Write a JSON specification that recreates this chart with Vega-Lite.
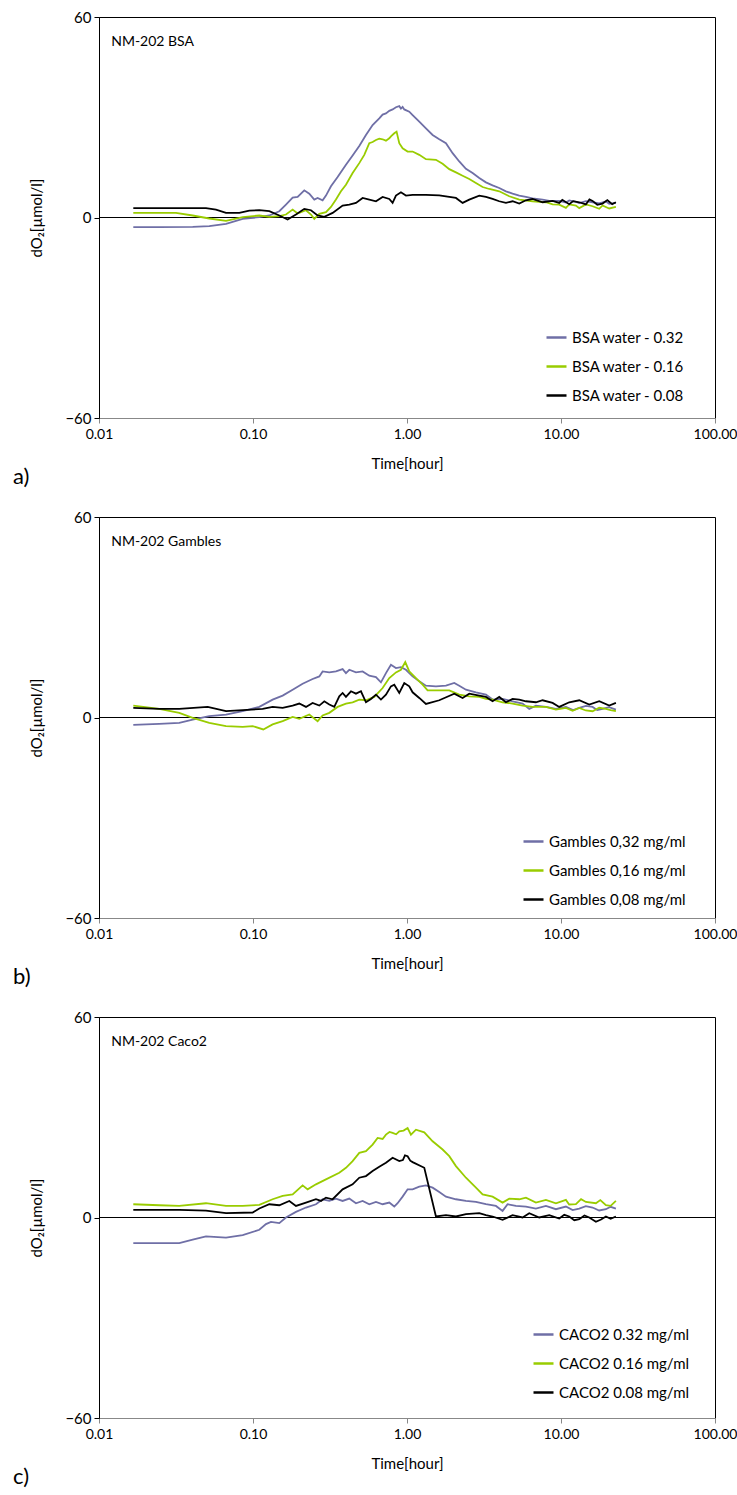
{
  "$schema": "https://vega.github.io/schema/vega-lite/v6.json",
  "padding": {"left": 12, "top": 9, "right": 2, "bottom": 5},
  "spacing": 99,
  "bounds": "flush",
  "config": {
    "font": "Lato",
    "view": {"stroke": "#000", "strokeWidth": 1},
    "axis": {"grid": false, "labelFont": "Lato", "titleFont": "Lato", "labelFontSize": 15, "titleFontSize": 15, "titleFontWeight": "normal", "labelColor": "#000", "titleColor": "#000"},
    "legend": {"labelFont": "Lato", "labelFontSize": 15, "labelColor": "#000"},
    "title": {"orient": "bottom", "anchor": "start", "frame": "group", "fontSize": 22, "fontWeight": "normal", "font": "Lato", "color": "#000", "dx": -86, "offset": -4}
  },
  "resolve": {"scale": {"color": "independent"}, "legend": {"color": "independent"}},
  "datasets": {
    "a": [
      {"s":"BSA water - 0.32","t":0.0167,"v":-2.88},{"s":"BSA water - 0.32","t":0.0246,"v":-2.88},{"s":"BSA water - 0.32","t":0.0406,"v":-2.78},{"s":"BSA water - 0.32","t":0.052,"v":-2.58},{"s":"BSA water - 0.32","t":0.0668,"v":-1.88},{"s":"BSA water - 0.32","t":0.0857,"v":-0.4},{"s":"BSA water - 0.32","t":0.1099,"v":0.1},{"s":"BSA water - 0.32","t":0.1276,"v":0.6},{"s":"BSA water - 0.32","t":0.1482,"v":1.88},{"s":"BSA water - 0.32","t":0.1637,"v":3.87},{"s":"BSA water - 0.32","t":0.1809,"v":5.95},{"s":"BSA water - 0.32","t":0.1949,"v":6.15},{"s":"BSA water - 0.32","t":0.2153,"v":8.13},{"s":"BSA water - 0.32","t":0.232,"v":7.14},{"s":"BSA water - 0.32","t":0.25,"v":5.36},{"s":"BSA water - 0.32","t":0.2628,"v":5.85},{"s":"BSA water - 0.32","t":0.2832,"v":5.16},{"s":"BSA water - 0.32","t":0.2977,"v":6.55},{"s":"BSA water - 0.32","t":0.3208,"v":9.33},{"s":"BSA water - 0.32","t":0.3544,"v":12.1},{"s":"BSA water - 0.32","t":0.4014,"v":15.77},{"s":"BSA water - 0.32","t":0.4435,"v":18.55},{"s":"BSA water - 0.32","t":0.4899,"v":21.43},{"s":"BSA water - 0.32","t":0.5413,"v":24.7},{"s":"BSA water - 0.32","t":0.598,"v":27.68},{"s":"BSA water - 0.32","t":0.6607,"v":29.66},{"s":"BSA water - 0.32","t":0.6945,"v":30.8},{"s":"BSA water - 0.32","t":0.73,"v":31.15},{"s":"BSA water - 0.32","t":0.7673,"v":31.9},{"s":"BSA water - 0.32","t":0.8064,"v":32.34},{"s":"BSA water - 0.32","t":0.8476,"v":33.0},{"s":"BSA water - 0.32","t":0.8909,"v":33.33},{"s":"BSA water - 0.32","t":0.9134,"v":32.6},{"s":"BSA water - 0.32","t":0.9365,"v":33.1},{"s":"BSA water - 0.32","t":0.9601,"v":32.34},{"s":"BSA water - 0.32","t":1.0346,"v":31.65},{"s":"BSA water - 0.32","t":1.0875,"v":30.65},{"s":"BSA water - 0.32","t":1.2015,"v":28.67},{"s":"BSA water - 0.32","t":1.3273,"v":26.69},{"s":"BSA water - 0.32","t":1.4665,"v":24.7},{"s":"BSA water - 0.32","t":1.6202,"v":23.41},{"s":"BSA water - 0.32","t":1.79,"v":22.22},{"s":"BSA water - 0.32","t":1.9777,"v":19.25},{"s":"BSA water - 0.32","t":2.1846,"v":16.77},{"s":"BSA water - 0.32","t":2.4136,"v":14.58},{"s":"BSA water - 0.32","t":2.6667,"v":13.29},{"s":"BSA water - 0.32","t":2.9462,"v":11.81},{"s":"BSA water - 0.32","t":3.2551,"v":10.52},{"s":"BSA water - 0.32","t":3.5956,"v":9.62},{"s":"BSA water - 0.32","t":3.9726,"v":8.83},{"s":"BSA water - 0.32","t":4.389,"v":7.84},{"s":"BSA water - 0.32","t":4.8491,"v":7.14},{"s":"BSA water - 0.32","t":5.3574,"v":6.55},{"s":"BSA water - 0.32","t":5.9181,"v":6.15},{"s":"BSA water - 0.32","t":6.5386,"v":5.75},{"s":"BSA water - 0.32","t":7.5932,"v":5.36},{"s":"BSA water - 0.32","t":8.39,"v":5.0},{"s":"BSA water - 0.32","t":9.7408,"v":4.96},{"s":"BSA water - 0.32","t":10.76,"v":4.5},{"s":"BSA water - 0.32","t":11.31,"v":5.1},{"s":"BSA water - 0.32","t":12.498,"v":4.66},{"s":"BSA water - 0.32","t":13.14,"v":4.3},{"s":"BSA water - 0.32","t":14.51,"v":4.9},{"s":"BSA water - 0.32","t":16.033,"v":4.56},{"s":"BSA water - 0.32","t":17.71,"v":4.2},{"s":"BSA water - 0.32","t":19.57,"v":4.8},{"s":"BSA water - 0.32","t":20.57,"v":4.1},{"s":"BSA water - 0.32","t":22.727,"v":4.37},
      {"s":"BSA water - 0.16","t":0.0167,"v":1.39},{"s":"BSA water - 0.16","t":0.0316,"v":1.39},{"s":"BSA water - 0.16","t":0.0406,"v":0.6},{"s":"BSA water - 0.16","t":0.052,"v":-0.3},{"s":"BSA water - 0.16","t":0.0668,"v":-0.99},{"s":"BSA water - 0.16","t":0.0857,"v":0.1},{"s":"BSA water - 0.16","t":0.1099,"v":0.6},{"s":"BSA water - 0.16","t":0.1276,"v":0.2},{"s":"BSA water - 0.16","t":0.1482,"v":0.4},{"s":"BSA water - 0.16","t":0.1637,"v":0.89},{"s":"BSA water - 0.16","t":0.1809,"v":2.38},{"s":"BSA water - 0.16","t":0.1949,"v":1.19},{"s":"BSA water - 0.16","t":0.2208,"v":2.18},{"s":"BSA water - 0.16","t":0.2379,"v":0.89},{"s":"BSA water - 0.16","t":0.25,"v":-0.4},{"s":"BSA water - 0.16","t":0.2695,"v":1.09},{"s":"BSA water - 0.16","t":0.2977,"v":1.59},{"s":"BSA water - 0.16","t":0.3208,"v":3.17},{"s":"BSA water - 0.16","t":0.3457,"v":5.36},{"s":"BSA water - 0.16","t":0.3725,"v":7.84},{"s":"BSA water - 0.16","t":0.4014,"v":9.82},{"s":"BSA water - 0.16","t":0.4435,"v":13.29},{"s":"BSA water - 0.16","t":0.4899,"v":16.27},{"s":"BSA water - 0.16","t":0.528,"v":18.75},{"s":"BSA water - 0.16","t":0.569,"v":22.22},{"s":"BSA water - 0.16","t":0.598,"v":22.6},{"s":"BSA water - 0.16","t":0.6286,"v":23.21},{"s":"BSA water - 0.16","t":0.6607,"v":23.6},{"s":"BSA water - 0.16","t":0.6945,"v":23.41},{"s":"BSA water - 0.16","t":0.73,"v":23.0},{"s":"BSA water - 0.16","t":0.7673,"v":23.71},{"s":"BSA water - 0.16","t":0.7866,"v":24.3},{"s":"BSA water - 0.16","t":0.8267,"v":25.2},{"s":"BSA water - 0.16","t":0.8557,"v":25.69},{"s":"BSA water - 0.16","t":0.8909,"v":22.22},{"s":"BSA water - 0.16","t":0.9365,"v":20.73},{"s":"BSA water - 0.16","t":1.0092,"v":19.74},{"s":"BSA water - 0.16","t":1.0875,"v":19.74},{"s":"BSA water - 0.16","t":1.2015,"v":18.75},{"s":"BSA water - 0.16","t":1.3273,"v":17.46},{"s":"BSA water - 0.16","t":1.5414,"v":17.26},{"s":"BSA water - 0.16","t":1.703,"v":16.07},{"s":"BSA water - 0.16","t":1.8815,"v":14.48},{"s":"BSA water - 0.16","t":2.0787,"v":13.49},{"s":"BSA water - 0.16","t":2.2963,"v":12.5},{"s":"BSA water - 0.16","t":2.537,"v":11.51},{"s":"BSA water - 0.16","t":2.8029,"v":10.32},{"s":"BSA water - 0.16","t":3.0968,"v":9.13},{"s":"BSA water - 0.16","t":3.4214,"v":8.53},{"s":"BSA water - 0.16","t":3.9726,"v":7.84},{"s":"BSA water - 0.16","t":4.6133,"v":6.35},{"s":"BSA water - 0.16","t":5.3574,"v":5.36},{"s":"BSA water - 0.16","t":6.5386,"v":4.86},{"s":"BSA water - 0.16","t":7.9813,"v":4.56},{"s":"BSA water - 0.16","t":8.82,"v":3.9},{"s":"BSA water - 0.16","t":9.7408,"v":3.87},{"s":"BSA water - 0.16","t":10.76,"v":2.9},{"s":"BSA water - 0.16","t":11.31,"v":3.9},{"s":"BSA water - 0.16","t":12.498,"v":3.57},{"s":"BSA water - 0.16","t":13.14,"v":2.8},{"s":"BSA water - 0.16","t":14.51,"v":3.9},{"s":"BSA water - 0.16","t":16.033,"v":3.37},{"s":"BSA water - 0.16","t":17.71,"v":2.6},{"s":"BSA water - 0.16","t":18.62,"v":3.6},{"s":"BSA water - 0.16","t":20.57,"v":2.7},{"s":"BSA water - 0.16","t":22.727,"v":3.17},
      {"s":"BSA water - 0.08","t":0.0167,"v":2.78},{"s":"BSA water - 0.08","t":0.0495,"v":2.78},{"s":"BSA water - 0.08","t":0.0575,"v":2.38},{"s":"BSA water - 0.08","t":0.0668,"v":1.39},{"s":"BSA water - 0.08","t":0.0815,"v":1.39},{"s":"BSA water - 0.08","t":0.0946,"v":2.08},{"s":"BSA water - 0.08","t":0.1099,"v":2.18},{"s":"BSA water - 0.08","t":0.1276,"v":1.88},{"s":"BSA water - 0.08","t":0.1482,"v":0.6},{"s":"BSA water - 0.08","t":0.1678,"v":-0.6},{"s":"BSA water - 0.08","t":0.1901,"v":0.89},{"s":"BSA water - 0.08","t":0.2153,"v":2.58},{"s":"BSA water - 0.08","t":0.2379,"v":2.18},{"s":"BSA water - 0.08","t":0.2628,"v":0.6},{"s":"BSA water - 0.08","t":0.2904,"v":0.2},{"s":"BSA water - 0.08","t":0.3289,"v":1.39},{"s":"BSA water - 0.08","t":0.3819,"v":3.57},{"s":"BSA water - 0.08","t":0.4219,"v":3.87},{"s":"BSA water - 0.08","t":0.4662,"v":4.37},{"s":"BSA water - 0.08","t":0.515,"v":5.85},{"s":"BSA water - 0.08","t":0.569,"v":5.36},{"s":"BSA water - 0.08","t":0.6286,"v":4.86},{"s":"BSA water - 0.08","t":0.6945,"v":6.15},{"s":"BSA water - 0.08","t":0.7673,"v":5.56},{"s":"BSA water - 0.08","t":0.8064,"v":4.37},{"s":"BSA water - 0.08","t":0.8476,"v":6.55},{"s":"BSA water - 0.08","t":0.9134,"v":7.54},{"s":"BSA water - 0.08","t":0.9843,"v":6.55},{"s":"BSA water - 0.08","t":1.0875,"v":6.75},{"s":"BSA water - 0.08","t":1.3273,"v":6.75},{"s":"BSA water - 0.08","t":1.6202,"v":6.65},{"s":"BSA water - 0.08","t":1.8815,"v":6.15},{"s":"BSA water - 0.08","t":2.0787,"v":5.85},{"s":"BSA water - 0.08","t":2.2963,"v":4.37},{"s":"BSA water - 0.08","t":2.537,"v":5.36},{"s":"BSA water - 0.08","t":2.9462,"v":6.55},{"s":"BSA water - 0.08","t":3.2551,"v":6.15},{"s":"BSA water - 0.08","t":3.5956,"v":5.56},{"s":"BSA water - 0.08","t":3.9726,"v":4.86},{"s":"BSA water - 0.08","t":4.389,"v":4.37},{"s":"BSA water - 0.08","t":4.8491,"v":4.86},{"s":"BSA water - 0.08","t":5.3574,"v":4.17},{"s":"BSA water - 0.08","t":5.9181,"v":5.16},{"s":"BSA water - 0.08","t":6.5386,"v":5.56},{"s":"BSA water - 0.08","t":7.5932,"v":4.56},{"s":"BSA water - 0.08","t":8.818,"v":4.96},{"s":"BSA water - 0.08","t":9.7408,"v":4.37},{"s":"BSA water - 0.08","t":10.2,"v":5.3},{"s":"BSA water - 0.08","t":11.312,"v":3.97},{"s":"BSA water - 0.08","t":12.0,"v":4.9},{"s":"BSA water - 0.08","t":13.137,"v":4.56},{"s":"BSA water - 0.08","t":14.5,"v":3.9},{"s":"BSA water - 0.08","t":15.3,"v":5.4},{"s":"BSA water - 0.08","t":16.033,"v":4.96},{"s":"BSA water - 0.08","t":17.2,"v":3.8},{"s":"BSA water - 0.08","t":18.619,"v":4.17},{"s":"BSA water - 0.08","t":20.0,"v":5.2},{"s":"BSA water - 0.08","t":21.5,"v":4.0},{"s":"BSA water - 0.08","t":22.727,"v":4.56}
    ],
    "b": [
      {"s":"Gambles 0,32 mg/ml","t":0.0167,"v":-2.18},{"s":"Gambles 0,32 mg/ml","t":0.0246,"v":-1.88},{"s":"Gambles 0,32 mg/ml","t":0.0332,"v":-1.59},{"s":"Gambles 0,32 mg/ml","t":0.0406,"v":-0.6},{"s":"Gambles 0,32 mg/ml","t":0.052,"v":0.4},{"s":"Gambles 0,32 mg/ml","t":0.0668,"v":0.89},{"s":"Gambles 0,32 mg/ml","t":0.0857,"v":1.88},{"s":"Gambles 0,32 mg/ml","t":0.1099,"v":3.17},{"s":"Gambles 0,32 mg/ml","t":0.1341,"v":5.36},{"s":"Gambles 0,32 mg/ml","t":0.1558,"v":6.55},{"s":"Gambles 0,32 mg/ml","t":0.1809,"v":8.33},{"s":"Gambles 0,32 mg/ml","t":0.21,"v":10.12},{"s":"Gambles 0,32 mg/ml","t":0.2439,"v":11.51},{"s":"Gambles 0,32 mg/ml","t":0.2695,"v":12.3},{"s":"Gambles 0,32 mg/ml","t":0.2832,"v":13.79},{"s":"Gambles 0,32 mg/ml","t":0.3129,"v":13.49},{"s":"Gambles 0,32 mg/ml","t":0.3457,"v":13.79},{"s":"Gambles 0,32 mg/ml","t":0.3819,"v":14.48},{"s":"Gambles 0,32 mg/ml","t":0.4014,"v":13.29},{"s":"Gambles 0,32 mg/ml","t":0.4219,"v":14.29},{"s":"Gambles 0,32 mg/ml","t":0.4662,"v":13.49},{"s":"Gambles 0,32 mg/ml","t":0.515,"v":13.79},{"s":"Gambles 0,32 mg/ml","t":0.569,"v":12.5},{"s":"Gambles 0,32 mg/ml","t":0.6286,"v":12.1},{"s":"Gambles 0,32 mg/ml","t":0.6774,"v":10.52},{"s":"Gambles 0,32 mg/ml","t":0.73,"v":13.29},{"s":"Gambles 0,32 mg/ml","t":0.7866,"v":15.77},{"s":"Gambles 0,32 mg/ml","t":0.8476,"v":14.78},{"s":"Gambles 0,32 mg/ml","t":0.9134,"v":15.08},{"s":"Gambles 0,32 mg/ml","t":0.9843,"v":14.29},{"s":"Gambles 0,32 mg/ml","t":1.0875,"v":12.3},{"s":"Gambles 0,32 mg/ml","t":1.2015,"v":10.81},{"s":"Gambles 0,32 mg/ml","t":1.3273,"v":9.52},{"s":"Gambles 0,32 mg/ml","t":1.5414,"v":9.33},{"s":"Gambles 0,32 mg/ml","t":1.79,"v":9.52},{"s":"Gambles 0,32 mg/ml","t":2.0275,"v":10.32},{"s":"Gambles 0,32 mg/ml","t":2.1846,"v":9.52},{"s":"Gambles 0,32 mg/ml","t":2.4136,"v":8.33},{"s":"Gambles 0,32 mg/ml","t":2.8029,"v":7.54},{"s":"Gambles 0,32 mg/ml","t":3.2551,"v":6.85},{"s":"Gambles 0,32 mg/ml","t":3.5956,"v":5.36},{"s":"Gambles 0,32 mg/ml","t":4.1756,"v":5.56},{"s":"Gambles 0,32 mg/ml","t":4.8491,"v":4.86},{"s":"Gambles 0,32 mg/ml","t":5.6312,"v":4.17},{"s":"Gambles 0,32 mg/ml","t":6.2206,"v":2.58},{"s":"Gambles 0,32 mg/ml","t":6.8728,"v":3.57},{"s":"Gambles 0,32 mg/ml","t":7.9813,"v":3.17},{"s":"Gambles 0,32 mg/ml","t":9.2686,"v":2.58},{"s":"Gambles 0,32 mg/ml","t":10.762,"v":3.17},{"s":"Gambles 0,32 mg/ml","t":12.0,"v":2.2},{"s":"Gambles 0,32 mg/ml","t":13.137,"v":2.88},{"s":"Gambles 0,32 mg/ml","t":14.5,"v":3.5},{"s":"Gambles 0,32 mg/ml","t":16.033,"v":3.17},{"s":"Gambles 0,32 mg/ml","t":17.2,"v":2.2},{"s":"Gambles 0,32 mg/ml","t":18.619,"v":2.58},{"s":"Gambles 0,32 mg/ml","t":20.5,"v":3.1},{"s":"Gambles 0,32 mg/ml","t":22.727,"v":2.38},
      {"s":"Gambles 0,16 mg/ml","t":0.0167,"v":3.57},{"s":"Gambles 0,16 mg/ml","t":0.0246,"v":2.58},{"s":"Gambles 0,16 mg/ml","t":0.0332,"v":1.39},{"s":"Gambles 0,16 mg/ml","t":0.0406,"v":-0.1},{"s":"Gambles 0,16 mg/ml","t":0.052,"v":-1.59},{"s":"Gambles 0,16 mg/ml","t":0.0668,"v":-2.58},{"s":"Gambles 0,16 mg/ml","t":0.0857,"v":-2.78},{"s":"Gambles 0,16 mg/ml","t":0.0995,"v":-2.58},{"s":"Gambles 0,16 mg/ml","t":0.1166,"v":-3.57},{"s":"Gambles 0,16 mg/ml","t":0.1341,"v":-2.08},{"s":"Gambles 0,16 mg/ml","t":0.1558,"v":-1.09},{"s":"Gambles 0,16 mg/ml","t":0.1809,"v":0.2},{"s":"Gambles 0,16 mg/ml","t":0.1998,"v":-0.4},{"s":"Gambles 0,16 mg/ml","t":0.232,"v":0.89},{"s":"Gambles 0,16 mg/ml","t":0.2628,"v":-1.09},{"s":"Gambles 0,16 mg/ml","t":0.2832,"v":0.6},{"s":"Gambles 0,16 mg/ml","t":0.3129,"v":1.39},{"s":"Gambles 0,16 mg/ml","t":0.3544,"v":3.17},{"s":"Gambles 0,16 mg/ml","t":0.4014,"v":4.17},{"s":"Gambles 0,16 mg/ml","t":0.4435,"v":4.56},{"s":"Gambles 0,16 mg/ml","t":0.4899,"v":5.36},{"s":"Gambles 0,16 mg/ml","t":0.5413,"v":5.16},{"s":"Gambles 0,16 mg/ml","t":0.6131,"v":6.15},{"s":"Gambles 0,16 mg/ml","t":0.6945,"v":8.83},{"s":"Gambles 0,16 mg/ml","t":0.7673,"v":11.81},{"s":"Gambles 0,16 mg/ml","t":0.8476,"v":13.49},{"s":"Gambles 0,16 mg/ml","t":0.9134,"v":14.29},{"s":"Gambles 0,16 mg/ml","t":0.9745,"v":16.57},{"s":"Gambles 0,16 mg/ml","t":1.0346,"v":13.79},{"s":"Gambles 0,16 mg/ml","t":1.1431,"v":11.81},{"s":"Gambles 0,16 mg/ml","t":1.2629,"v":9.82},{"s":"Gambles 0,16 mg/ml","t":1.3608,"v":8.13},{"s":"Gambles 0,16 mg/ml","t":1.5414,"v":8.13},{"s":"Gambles 0,16 mg/ml","t":1.8815,"v":8.13},{"s":"Gambles 0,16 mg/ml","t":2.1846,"v":6.85},{"s":"Gambles 0,16 mg/ml","t":2.537,"v":6.35},{"s":"Gambles 0,16 mg/ml","t":2.9462,"v":6.15},{"s":"Gambles 0,16 mg/ml","t":3.2551,"v":5.56},{"s":"Gambles 0,16 mg/ml","t":3.5956,"v":5.36},{"s":"Gambles 0,16 mg/ml","t":4.1756,"v":4.56},{"s":"Gambles 0,16 mg/ml","t":4.8491,"v":4.17},{"s":"Gambles 0,16 mg/ml","t":5.6312,"v":3.57},{"s":"Gambles 0,16 mg/ml","t":6.5386,"v":3.17},{"s":"Gambles 0,16 mg/ml","t":7.9813,"v":3.17},{"s":"Gambles 0,16 mg/ml","t":9.2686,"v":2.38},{"s":"Gambles 0,16 mg/ml","t":10.762,"v":2.88},{"s":"Gambles 0,16 mg/ml","t":11.9,"v":2.0},{"s":"Gambles 0,16 mg/ml","t":13.137,"v":2.88},{"s":"Gambles 0,16 mg/ml","t":14.5,"v":2.1},{"s":"Gambles 0,16 mg/ml","t":16.033,"v":1.88},{"s":"Gambles 0,16 mg/ml","t":17.7,"v":2.9},{"s":"Gambles 0,16 mg/ml","t":19.571,"v":2.58},{"s":"Gambles 0,16 mg/ml","t":21.0,"v":2.2},{"s":"Gambles 0,16 mg/ml","t":22.727,"v":1.88},
      {"s":"Gambles 0,08 mg/ml","t":0.0167,"v":2.88},{"s":"Gambles 0,08 mg/ml","t":0.0246,"v":2.58},{"s":"Gambles 0,08 mg/ml","t":0.0332,"v":2.58},{"s":"Gambles 0,08 mg/ml","t":0.0508,"v":3.17},{"s":"Gambles 0,08 mg/ml","t":0.0668,"v":1.88},{"s":"Gambles 0,08 mg/ml","t":0.0857,"v":2.18},{"s":"Gambles 0,08 mg/ml","t":0.1155,"v":2.58},{"s":"Gambles 0,08 mg/ml","t":0.1341,"v":3.17},{"s":"Gambles 0,08 mg/ml","t":0.1558,"v":2.88},{"s":"Gambles 0,08 mg/ml","t":0.1809,"v":3.57},{"s":"Gambles 0,08 mg/ml","t":0.1998,"v":4.17},{"s":"Gambles 0,08 mg/ml","t":0.2208,"v":3.17},{"s":"Gambles 0,08 mg/ml","t":0.2439,"v":4.37},{"s":"Gambles 0,08 mg/ml","t":0.2695,"v":3.57},{"s":"Gambles 0,08 mg/ml","t":0.2904,"v":4.86},{"s":"Gambles 0,08 mg/ml","t":0.3129,"v":3.87},{"s":"Gambles 0,08 mg/ml","t":0.3372,"v":3.17},{"s":"Gambles 0,08 mg/ml","t":0.3633,"v":6.35},{"s":"Gambles 0,08 mg/ml","t":0.3819,"v":7.34},{"s":"Gambles 0,08 mg/ml","t":0.4014,"v":6.15},{"s":"Gambles 0,08 mg/ml","t":0.4326,"v":7.84},{"s":"Gambles 0,08 mg/ml","t":0.4662,"v":7.14},{"s":"Gambles 0,08 mg/ml","t":0.5023,"v":7.84},{"s":"Gambles 0,08 mg/ml","t":0.5413,"v":4.56},{"s":"Gambles 0,08 mg/ml","t":0.5833,"v":5.56},{"s":"Gambles 0,08 mg/ml","t":0.6286,"v":6.85},{"s":"Gambles 0,08 mg/ml","t":0.6774,"v":5.36},{"s":"Gambles 0,08 mg/ml","t":0.73,"v":6.85},{"s":"Gambles 0,08 mg/ml","t":0.7866,"v":9.33},{"s":"Gambles 0,08 mg/ml","t":0.8267,"v":9.82},{"s":"Gambles 0,08 mg/ml","t":0.8909,"v":7.34},{"s":"Gambles 0,08 mg/ml","t":0.9601,"v":10.32},{"s":"Gambles 0,08 mg/ml","t":1.0346,"v":9.33},{"s":"Gambles 0,08 mg/ml","t":1.0875,"v":7.54},{"s":"Gambles 0,08 mg/ml","t":1.2015,"v":5.85},{"s":"Gambles 0,08 mg/ml","t":1.3273,"v":4.07},{"s":"Gambles 0,08 mg/ml","t":1.6202,"v":5.16},{"s":"Gambles 0,08 mg/ml","t":2.0275,"v":7.14},{"s":"Gambles 0,08 mg/ml","t":2.2963,"v":5.85},{"s":"Gambles 0,08 mg/ml","t":2.537,"v":7.14},{"s":"Gambles 0,08 mg/ml","t":2.9462,"v":6.55},{"s":"Gambles 0,08 mg/ml","t":3.2551,"v":6.15},{"s":"Gambles 0,08 mg/ml","t":3.5956,"v":4.86},{"s":"Gambles 0,08 mg/ml","t":3.9726,"v":6.15},{"s":"Gambles 0,08 mg/ml","t":4.389,"v":4.56},{"s":"Gambles 0,08 mg/ml","t":4.8491,"v":5.56},{"s":"Gambles 0,08 mg/ml","t":5.3574,"v":5.36},{"s":"Gambles 0,08 mg/ml","t":5.9181,"v":4.86},{"s":"Gambles 0,08 mg/ml","t":6.8728,"v":4.56},{"s":"Gambles 0,08 mg/ml","t":7.5932,"v":5.16},{"s":"Gambles 0,08 mg/ml","t":8.818,"v":4.37},{"s":"Gambles 0,08 mg/ml","t":9.7408,"v":3.17},{"s":"Gambles 0,08 mg/ml","t":11.312,"v":4.56},{"s":"Gambles 0,08 mg/ml","t":13.137,"v":5.16},{"s":"Gambles 0,08 mg/ml","t":15.255,"v":3.87},{"s":"Gambles 0,08 mg/ml","t":17.714,"v":4.86},{"s":"Gambles 0,08 mg/ml","t":20.571,"v":3.57},{"s":"Gambles 0,08 mg/ml","t":22.727,"v":4.37}
    ],
    "c": [
      {"s":"CACO2 0.32 mg/ml","t":0.0167,"v":-7.64},{"s":"CACO2 0.32 mg/ml","t":0.0332,"v":-7.64},{"s":"CACO2 0.32 mg/ml","t":0.0406,"v":-6.65},{"s":"CACO2 0.32 mg/ml","t":0.0495,"v":-5.65},{"s":"CACO2 0.32 mg/ml","t":0.0668,"v":-6.05},{"s":"CACO2 0.32 mg/ml","t":0.0857,"v":-5.26},{"s":"CACO2 0.32 mg/ml","t":0.1099,"v":-3.67},{"s":"CACO2 0.32 mg/ml","t":0.1214,"v":-1.98},{"s":"CACO2 0.32 mg/ml","t":0.1308,"v":-1.29},{"s":"CACO2 0.32 mg/ml","t":0.1482,"v":-1.69},{"s":"CACO2 0.32 mg/ml","t":0.1637,"v":0},{"s":"CACO2 0.32 mg/ml","t":0.1901,"v":1.69},{"s":"CACO2 0.32 mg/ml","t":0.2208,"v":2.98},{"s":"CACO2 0.32 mg/ml","t":0.2564,"v":3.97},{"s":"CACO2 0.32 mg/ml","t":0.2832,"v":5.46},{"s":"CACO2 0.32 mg/ml","t":0.3129,"v":4.96},{"s":"CACO2 0.32 mg/ml","t":0.3457,"v":5.65},{"s":"CACO2 0.32 mg/ml","t":0.3819,"v":4.96},{"s":"CACO2 0.32 mg/ml","t":0.4219,"v":5.65},{"s":"CACO2 0.32 mg/ml","t":0.4662,"v":4.27},{"s":"CACO2 0.32 mg/ml","t":0.515,"v":4.96},{"s":"CACO2 0.32 mg/ml","t":0.569,"v":3.97},{"s":"CACO2 0.32 mg/ml","t":0.6286,"v":4.66},{"s":"CACO2 0.32 mg/ml","t":0.6945,"v":3.97},{"s":"CACO2 0.32 mg/ml","t":0.7673,"v":4.46},{"s":"CACO2 0.32 mg/ml","t":0.8267,"v":3.27},{"s":"CACO2 0.32 mg/ml","t":0.869,"v":4.27},{"s":"CACO2 0.32 mg/ml","t":0.9365,"v":6.25},{"s":"CACO2 0.32 mg/ml","t":1.0092,"v":8.43},{"s":"CACO2 0.32 mg/ml","t":1.0875,"v":8.43},{"s":"CACO2 0.32 mg/ml","t":1.2015,"v":9.23},{"s":"CACO2 0.32 mg/ml","t":1.3273,"v":9.62},{"s":"CACO2 0.32 mg/ml","t":1.4665,"v":8.93},{"s":"CACO2 0.32 mg/ml","t":1.6202,"v":7.64},{"s":"CACO2 0.32 mg/ml","t":1.79,"v":6.25},{"s":"CACO2 0.32 mg/ml","t":2.0787,"v":5.46},{"s":"CACO2 0.32 mg/ml","t":2.4136,"v":4.96},{"s":"CACO2 0.32 mg/ml","t":2.8029,"v":4.66},{"s":"CACO2 0.32 mg/ml","t":3.2551,"v":3.97},{"s":"CACO2 0.32 mg/ml","t":3.7794,"v":3.47},{"s":"CACO2 0.32 mg/ml","t":4.1756,"v":1.98},{"s":"CACO2 0.32 mg/ml","t":4.4998,"v":3.97},{"s":"CACO2 0.32 mg/ml","t":5.0969,"v":3.47},{"s":"CACO2 0.32 mg/ml","t":5.9181,"v":3.27},{"s":"CACO2 0.32 mg/ml","t":6.8728,"v":2.68},{"s":"CACO2 0.32 mg/ml","t":7.9813,"v":3.47},{"s":"CACO2 0.32 mg/ml","t":9.2686,"v":2.48},{"s":"CACO2 0.32 mg/ml","t":10.762,"v":3.27},{"s":"CACO2 0.32 mg/ml","t":11.9,"v":2.2},{"s":"CACO2 0.32 mg/ml","t":13.137,"v":2.68},{"s":"CACO2 0.32 mg/ml","t":14.5,"v":3.4},{"s":"CACO2 0.32 mg/ml","t":16.033,"v":2.98},{"s":"CACO2 0.32 mg/ml","t":17.7,"v":2.1},{"s":"CACO2 0.32 mg/ml","t":19.571,"v":2.48},{"s":"CACO2 0.32 mg/ml","t":21.0,"v":3.2},{"s":"CACO2 0.32 mg/ml","t":22.727,"v":2.68},
      {"s":"CACO2 0.16 mg/ml","t":0.0167,"v":3.97},{"s":"CACO2 0.16 mg/ml","t":0.0246,"v":3.67},{"s":"CACO2 0.16 mg/ml","t":0.0332,"v":3.47},{"s":"CACO2 0.16 mg/ml","t":0.0495,"v":4.27},{"s":"CACO2 0.16 mg/ml","t":0.0668,"v":3.47},{"s":"CACO2 0.16 mg/ml","t":0.0857,"v":3.47},{"s":"CACO2 0.16 mg/ml","t":0.1099,"v":3.77},{"s":"CACO2 0.16 mg/ml","t":0.1341,"v":5.46},{"s":"CACO2 0.16 mg/ml","t":0.1558,"v":6.45},{"s":"CACO2 0.16 mg/ml","t":0.1809,"v":6.94},{"s":"CACO2 0.16 mg/ml","t":0.21,"v":9.62},{"s":"CACO2 0.16 mg/ml","t":0.2263,"v":8.43},{"s":"CACO2 0.16 mg/ml","t":0.2564,"v":9.92},{"s":"CACO2 0.16 mg/ml","t":0.2977,"v":11.41},{"s":"CACO2 0.16 mg/ml","t":0.3633,"v":13.39},{"s":"CACO2 0.16 mg/ml","t":0.4014,"v":14.88},{"s":"CACO2 0.16 mg/ml","t":0.4435,"v":16.87},{"s":"CACO2 0.16 mg/ml","t":0.4899,"v":19.35},{"s":"CACO2 0.16 mg/ml","t":0.5413,"v":19.84},{"s":"CACO2 0.16 mg/ml","t":0.598,"v":21.83},{"s":"CACO2 0.16 mg/ml","t":0.6445,"v":23.81},{"s":"CACO2 0.16 mg/ml","t":0.6945,"v":23.5},{"s":"CACO2 0.16 mg/ml","t":0.73,"v":24.8},{"s":"CACO2 0.16 mg/ml","t":0.77,"v":25.6},{"s":"CACO2 0.16 mg/ml","t":0.8064,"v":25.3},{"s":"CACO2 0.16 mg/ml","t":0.85,"v":24.9},{"s":"CACO2 0.16 mg/ml","t":0.8909,"v":25.79},{"s":"CACO2 0.16 mg/ml","t":0.95,"v":26.0},{"s":"CACO2 0.16 mg/ml","t":1.0092,"v":26.79},{"s":"CACO2 0.16 mg/ml","t":1.0607,"v":24.8},{"s":"CACO2 0.16 mg/ml","t":1.1431,"v":26.29},{"s":"CACO2 0.16 mg/ml","t":1.2948,"v":25.5},{"s":"CACO2 0.16 mg/ml","t":1.4665,"v":22.82},{"s":"CACO2 0.16 mg/ml","t":1.703,"v":20.34},{"s":"CACO2 0.16 mg/ml","t":1.8815,"v":18.35},{"s":"CACO2 0.16 mg/ml","t":2.0787,"v":15.38},{"s":"CACO2 0.16 mg/ml","t":2.4136,"v":11.9},{"s":"CACO2 0.16 mg/ml","t":2.8029,"v":8.93},{"s":"CACO2 0.16 mg/ml","t":3.0968,"v":6.94},{"s":"CACO2 0.16 mg/ml","t":3.5956,"v":6.25},{"s":"CACO2 0.16 mg/ml","t":4.1756,"v":4.46},{"s":"CACO2 0.16 mg/ml","t":4.6133,"v":5.65},{"s":"CACO2 0.16 mg/ml","t":5.3574,"v":5.46},{"s":"CACO2 0.16 mg/ml","t":5.9181,"v":5.95},{"s":"CACO2 0.16 mg/ml","t":6.8728,"v":4.46},{"s":"CACO2 0.16 mg/ml","t":7.9813,"v":5.26},{"s":"CACO2 0.16 mg/ml","t":9.2686,"v":4.27},{"s":"CACO2 0.16 mg/ml","t":10.762,"v":5.26},{"s":"CACO2 0.16 mg/ml","t":11.3,"v":3.9},{"s":"CACO2 0.16 mg/ml","t":12.498,"v":3.97},{"s":"CACO2 0.16 mg/ml","t":13.5,"v":5.5},{"s":"CACO2 0.16 mg/ml","t":14.514,"v":4.66},{"s":"CACO2 0.16 mg/ml","t":16.852,"v":4.27},{"s":"CACO2 0.16 mg/ml","t":18.0,"v":5.2},{"s":"CACO2 0.16 mg/ml","t":19.571,"v":3.67},{"s":"CACO2 0.16 mg/ml","t":21.0,"v":3.5},{"s":"CACO2 0.16 mg/ml","t":22.727,"v":4.96},
      {"s":"CACO2 0.08 mg/ml","t":0.0167,"v":2.28},{"s":"CACO2 0.08 mg/ml","t":0.0332,"v":2.28},{"s":"CACO2 0.08 mg/ml","t":0.0495,"v":2.08},{"s":"CACO2 0.08 mg/ml","t":0.0668,"v":1.29},{"s":"CACO2 0.08 mg/ml","t":0.0995,"v":1.49},{"s":"CACO2 0.08 mg/ml","t":0.1099,"v":2.68},{"s":"CACO2 0.08 mg/ml","t":0.1276,"v":3.97},{"s":"CACO2 0.08 mg/ml","t":0.1482,"v":3.67},{"s":"CACO2 0.08 mg/ml","t":0.1721,"v":4.96},{"s":"CACO2 0.08 mg/ml","t":0.1901,"v":3.47},{"s":"CACO2 0.08 mg/ml","t":0.2208,"v":4.46},{"s":"CACO2 0.08 mg/ml","t":0.2564,"v":5.46},{"s":"CACO2 0.08 mg/ml","t":0.2763,"v":4.96},{"s":"CACO2 0.08 mg/ml","t":0.2977,"v":5.95},{"s":"CACO2 0.08 mg/ml","t":0.3289,"v":5.46},{"s":"CACO2 0.08 mg/ml","t":0.3819,"v":8.43},{"s":"CACO2 0.08 mg/ml","t":0.4435,"v":9.92},{"s":"CACO2 0.08 mg/ml","t":0.4899,"v":11.9},{"s":"CACO2 0.08 mg/ml","t":0.5413,"v":12.4},{"s":"CACO2 0.08 mg/ml","t":0.598,"v":13.89},{"s":"CACO2 0.08 mg/ml","t":0.6607,"v":15.18},{"s":"CACO2 0.08 mg/ml","t":0.73,"v":16.37},{"s":"CACO2 0.08 mg/ml","t":0.8064,"v":17.86},{"s":"CACO2 0.08 mg/ml","t":0.8909,"v":16.87},{"s":"CACO2 0.08 mg/ml","t":0.94,"v":17.2},{"s":"CACO2 0.08 mg/ml","t":0.97,"v":18.6},{"s":"CACO2 0.08 mg/ml","t":1.0092,"v":18.35},{"s":"CACO2 0.08 mg/ml","t":1.05,"v":17.0},{"s":"CACO2 0.08 mg/ml","t":1.0875,"v":16.57},{"s":"CACO2 0.08 mg/ml","t":1.2948,"v":14.88},{"s":"CACO2 0.08 mg/ml","t":1.5414,"v":0.3},{"s":"CACO2 0.08 mg/ml","t":1.79,"v":0.69},{"s":"CACO2 0.08 mg/ml","t":2.0787,"v":0.3},{"s":"CACO2 0.08 mg/ml","t":2.4136,"v":0.99},{"s":"CACO2 0.08 mg/ml","t":2.9462,"v":1.29},{"s":"CACO2 0.08 mg/ml","t":3.2551,"v":0.69},{"s":"CACO2 0.08 mg/ml","t":3.5956,"v":0.3},{"s":"CACO2 0.08 mg/ml","t":4.1756,"v":-0.69},{"s":"CACO2 0.08 mg/ml","t":4.8491,"v":0.69},{"s":"CACO2 0.08 mg/ml","t":5.6312,"v":0},{"s":"CACO2 0.08 mg/ml","t":6.2206,"v":1.29},{"s":"CACO2 0.08 mg/ml","t":7.224,"v":0},{"s":"CACO2 0.08 mg/ml","t":8.3892,"v":0.69},{"s":"CACO2 0.08 mg/ml","t":9.7408,"v":-0.3},{"s":"CACO2 0.08 mg/ml","t":10.5,"v":0.8},{"s":"CACO2 0.08 mg/ml","t":11.312,"v":0.3},{"s":"CACO2 0.08 mg/ml","t":12.2,"v":-0.8},{"s":"CACO2 0.08 mg/ml","t":13.137,"v":-0.5},{"s":"CACO2 0.08 mg/ml","t":14.2,"v":0.6},{"s":"CACO2 0.08 mg/ml","t":15.255,"v":0},{"s":"CACO2 0.08 mg/ml","t":16.852,"v":-1.29},{"s":"CACO2 0.08 mg/ml","t":18.2,"v":-0.6},{"s":"CACO2 0.08 mg/ml","t":19.571,"v":0.3},{"s":"CACO2 0.08 mg/ml","t":21.0,"v":-0.4},{"s":"CACO2 0.08 mg/ml","t":22.727,"v":0.3}
    ]
  },
  "vconcat": [
    {
      "width": 616, "height": 401,
      "title": {"text": "a)"},
      "layer": [
        {"data": {"values": [{}]}, "mark": {"type": "rule", "color": "#000", "strokeWidth": 1}, "encoding": {"y": {"datum": 0, "type": "quantitative"}}},
        {"data": {"name": "a"}, "mark": {"type": "line", "strokeWidth": 1.8},
         "encoding": {
           "x": {"field": "t", "type": "quantitative", "scale": {"type": "log", "domain": [0.01, 100]}, "axis": {"values": [0.01, 0.1, 1, 10, 100], "format": ".2f", "title": "Time[hour]", "labelFontSize": 14, "tickColor": "#888", "domainColor": "#888", "tickSize": 5, "labelPadding": 4, "titlePadding": 15, "labelFlush": false, "labelOverlap": false}},
           "y": {"field": "v", "type": "quantitative", "scale": {"domain": [-60, 60], "nice": false}, "axis": {"values": [-60, 0, 60], "title": "dO₂[µmol/l]", "tickColor": "#000", "domainColor": "#000", "tickSize": 5, "labelPadding": 3, "titlePadding": 20}},
           "color": {"field": "s", "type": "nominal", "scale": {"domain": ["BSA water - 0.32", "BSA water - 0.16", "BSA water - 0.08"], "range": ["#6F6FA6", "#99CC00", "#000000"]},
             "legend": {"title": null, "orient": "none", "legendX": 446, "legendY": 309, "symbolType": "stroke", "symbolSize": 400, "symbolStrokeWidth": 2.5, "rowPadding": 9, "labelOffset": 4, "padding": 0}}
         }},
        {"data": {"values": [{}]}, "mark": {"type": "text", "text": "NM-202 BSA", "align": "left", "baseline": "middle", "fontSize": 14, "font": "Lato"}, "encoding": {"x": {"datum": 0.012}, "y": {"datum": 52.6}}}
      ]
    },
    {
      "width": 616, "height": 401,
      "title": {"text": "b)"},
      "layer": [
        {"data": {"values": [{}]}, "mark": {"type": "rule", "color": "#000", "strokeWidth": 1}, "encoding": {"y": {"datum": 0, "type": "quantitative"}}},
        {"data": {"name": "b"}, "mark": {"type": "line", "strokeWidth": 1.8},
         "encoding": {
           "x": {"field": "t", "type": "quantitative", "scale": {"type": "log", "domain": [0.01, 100]}, "axis": {"values": [0.01, 0.1, 1, 10, 100], "format": ".2f", "title": "Time[hour]", "labelFontSize": 14, "tickColor": "#888", "domainColor": "#888", "tickSize": 5, "labelPadding": 4, "titlePadding": 15, "labelFlush": false, "labelOverlap": false}},
           "y": {"field": "v", "type": "quantitative", "scale": {"domain": [-60, 60], "nice": false}, "axis": {"values": [-60, 0, 60], "title": "dO₂[µmol/l]", "tickColor": "#000", "domainColor": "#000", "tickSize": 5, "labelPadding": 3, "titlePadding": 20}},
           "color": {"field": "s", "type": "nominal", "scale": {"domain": ["Gambles 0,32 mg/ml", "Gambles 0,16 mg/ml", "Gambles 0,08 mg/ml"], "range": ["#6F6FA6", "#99CC00", "#000000"]},
             "legend": {"title": null, "orient": "none", "legendX": 423, "legendY": 313, "symbolType": "stroke", "symbolSize": 400, "symbolStrokeWidth": 2.5, "rowPadding": 9, "labelOffset": 4, "padding": 0}}
         }},
        {"data": {"values": [{}]}, "mark": {"type": "text", "text": "NM-202 Gambles", "align": "left", "baseline": "middle", "fontSize": 14, "font": "Lato"}, "encoding": {"x": {"datum": 0.012}, "y": {"datum": 52.6}}}
      ]
    },
    {
      "width": 616, "height": 401,
      "title": {"text": "c)"},
      "layer": [
        {"data": {"values": [{}]}, "mark": {"type": "rule", "color": "#000", "strokeWidth": 1}, "encoding": {"y": {"datum": 0, "type": "quantitative"}}},
        {"data": {"name": "c"}, "mark": {"type": "line", "strokeWidth": 1.8},
         "encoding": {
           "x": {"field": "t", "type": "quantitative", "scale": {"type": "log", "domain": [0.01, 100]}, "axis": {"values": [0.01, 0.1, 1, 10, 100], "format": ".2f", "title": "Time[hour]", "labelFontSize": 14, "tickColor": "#888", "domainColor": "#888", "tickSize": 5, "labelPadding": 4, "titlePadding": 15, "labelFlush": false, "labelOverlap": false}},
           "y": {"field": "v", "type": "quantitative", "scale": {"domain": [-60, 60], "nice": false}, "axis": {"values": [-60, 0, 60], "title": "dO₂[µmol/l]", "tickColor": "#000", "domainColor": "#000", "tickSize": 5, "labelPadding": 3, "titlePadding": 20}},
           "color": {"field": "s", "type": "nominal", "scale": {"domain": ["CACO2 0.32 mg/ml", "CACO2 0.16 mg/ml", "CACO2 0.08 mg/ml"], "range": ["#6F6FA6", "#99CC00", "#000000"]},
             "legend": {"title": null, "orient": "none", "legendX": 433, "legendY": 306, "symbolType": "stroke", "symbolSize": 400, "symbolStrokeWidth": 2.5, "rowPadding": 9, "labelOffset": 4, "padding": 0}}
         }},
        {"data": {"values": [{}]}, "mark": {"type": "text", "text": "NM-202 Caco2", "align": "left", "baseline": "middle", "fontSize": 14, "font": "Lato"}, "encoding": {"x": {"datum": 0.012}, "y": {"datum": 52.6}}}
      ]
    }
  ]
}
